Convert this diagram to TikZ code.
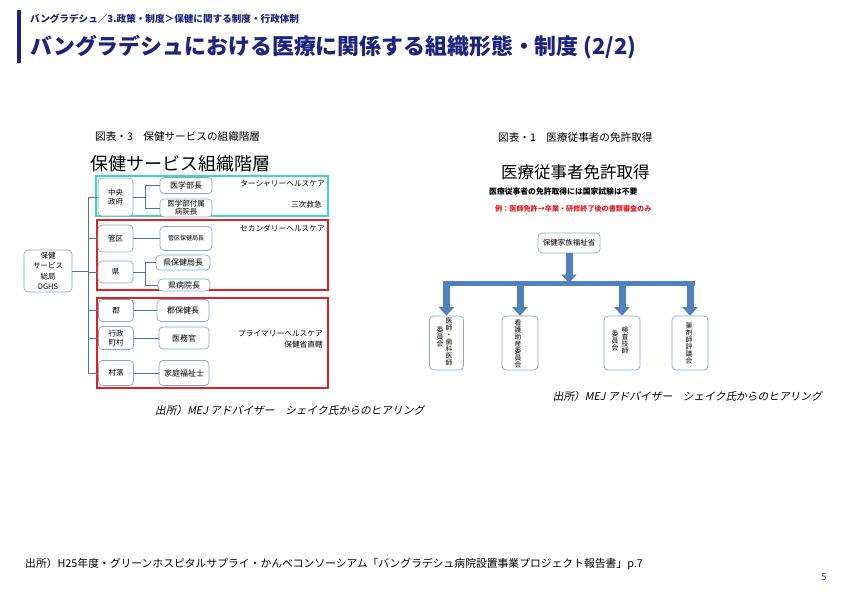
\documentclass[tikz,border=0pt]{standalone}
\usepackage{fontspec}
\setmainfont{Noto Sans CJK JP}
\newfontfamily\jpit[FakeSlant=0.2]{Noto Sans CJK JP}
\usetikzlibrary{arrows.meta}
\definecolor{navy}{RGB}{28,36,128}
\definecolor{boxc}{RGB}{140,165,200}
\definecolor{connc}{RGB}{74,118,176}
\definecolor{arrowc}{RGB}{79,129,189}
\definecolor{cyanf}{RGB}{64,214,190}
\definecolor{redf}{RGB}{226,30,38}
\definecolor{pgblue}{RGB}{30,60,160}
\tikzset{
  jbox/.style={draw=boxc, line width=0.7pt, rounded corners=4pt, fill=white, inner sep=0pt, align=center},
  conn/.style={draw=connc, line width=1pt},
  lbl/.style={font=\fontsize{7.7}{9}\selectfont, inner sep=0pt, anchor=east},
  vtext/.style={inner sep=0pt, align=center, anchor=north, font=\fontsize{6.8}{7}\selectfont},
  blk/.style={draw=arrowc, line width=7pt, -{Triangle[width=15pt,length=8.5pt]}},
  lone/.style={font=\fontsize{7.5}{9}\selectfont},
  ltwo/.style={font=\fontsize{8}{9}\selectfont},
}
\begin{document}
\begin{tikzpicture}[x=1pt,y=-1pt]
\useasboundingbox[fill=white] (0,0) rectangle (842,595);

% header
\fill[navy] (17,10) rectangle (21,63);
\node[anchor=west, inner sep=0pt, text=navy, font=\bfseries\fontsize{9.6}{11}\selectfont] (crumb) at (30,19) {バングラデシュ／3.政策・制度＞保健に関する制度・行政体制};
\node[anchor=west, inner sep=0pt, text=navy, font=\bfseries\fontsize{21.9}{24}\selectfont] (title) at (30,47) {バングラデシュにおける医療に関係する組織形態・制度 (2/2)};

% ---------- left diagram ----------
\node[anchor=west, inner sep=0pt, font=\fontsize{10.6}{12}\selectfont] (capL) at (95,136) {図表・3\quad 保健サービスの組織階層};
\node[anchor=west, inner sep=0pt, font=\fontsize{18}{20}\selectfont] (bigL) at (90,164) {保健サービス組織階層};

\draw[cyanf, line width=1.3pt] (96,176) rectangle (328,216);
\draw[redf, line width=1.2pt] (97,220) rectangle (328,290);
\draw[redf, line width=1.2pt] (97,298) rectangle (328,388);

\node[jbox, minimum width=48pt, minimum height=42pt, font=\fontsize{7.5}{10.5}\selectfont] (dghs) at (48,271) {保健\\サービス\\総局\\DGHS};

\node[jbox, lone, minimum width=35pt, minimum height=38pt] (cgov) at (115.5,197) {中央\\政府};
\node[jbox, lone, minimum width=35pt, minimum height=27pt] (kanku) at (115.5,238.5) {管区};
\node[jbox, lone, minimum width=35pt, minimum height=22pt] (ken) at (115.5,272) {県};
\node[jbox, lone, minimum width=35pt, minimum height=22pt] (gun) at (116,310.5) {郡};
\node[jbox, lone, minimum width=35pt, minimum height=23pt] (gyosei) at (116,338) {行政\\町村};
\node[jbox, lone, minimum width=35pt, minimum height=25pt] (sonraku) at (116,373) {村落};

\node[jbox, ltwo, minimum width=52pt, minimum height=16pt] (igakubu) at (186,185.5) {医学部長};
\node[jbox, font=\fontsize{7.5}{8}\selectfont, minimum width=52pt, minimum height=18pt] (fuzoku) at (186,208) {医学部付属\\病院長};
\node[jbox, font=\fontsize{6}{7}\selectfont, minimum width=52pt, minimum height=24pt] (kankuho) at (186,238.5) {管区保健局長};
\node[jbox, ltwo, minimum width=54pt, minimum height=15pt] (kenho) at (183,262.5) {県保健局長};
\node[jbox, ltwo, minimum width=52pt, minimum height=12pt] (kenbyo) at (184,285) {県病院長};
\node[jbox, ltwo, minimum width=52pt, minimum height=22pt] (gunho) at (183,310.5) {郡保健長};
\node[jbox, ltwo, minimum width=50pt, minimum height=22pt] (imukan) at (184,338) {医務官};
\node[jbox, ltwo, minimum width=50pt, minimum height=25pt] (kazoku) at (184,373) {家庭福祉士};

% bus from DGHS
\coordinate (bx) at (88,0);
\draw[conn] (dghs.east) -- (bx |- dghs.east);
\draw[conn] (bx |- cgov.west) -- (bx |- sonraku.west);
\foreach \n in {cgov,kanku,ken,gun,gyosei,sonraku}
  \draw[conn] (bx |- \n.west) -- (\n.west);

% central gov branch
\coordinate (c1) at (145,0);
\draw[conn] (cgov.east) -- (c1 |- cgov.east);
\draw[conn] (c1 |- igakubu.west) -- (c1 |- fuzoku.west);
\draw[conn] (c1 |- igakubu.west) -- (igakubu.west);
\draw[conn] (c1 |- fuzoku.west) -- (fuzoku.west);
% ken branch
\draw[conn] (ken.east) -- (c1 |- ken.east);
\draw[conn] (c1 |- kenho.west) -- (c1 |- kenbyo.west);
\draw[conn] (c1 |- kenho.west) -- (kenho.west);
\draw[conn] (c1 |- kenbyo.west) -- (kenbyo.west);
% straight ones
\draw[conn] (kanku.east) -- (kankuho.west);
\draw[conn] (gun.east) -- (gunho.west);
\draw[conn] (gyosei.east) -- (imukan.west);
\draw[conn] (sonraku.east) -- (kazoku.west);

\node[lbl] (tert) at (325,184) {ターシャリーヘルスケア};
\node[lbl] (sanji) at (322,205) {三次救急};
\node[lbl] (second) at (325,228) {セカンダリーヘルスケア};
\node[lbl] (prim) at (323,333) {プライマリーヘルスケア};
\node[lbl] (chokkatsu) at (323,345) {保健省直轄};

\node[anchor=west, inner sep=0pt, font=\jpit\fontsize{10.7}{12}\selectfont] (srcL) at (155,410) {出所）MEJ アドバイザー　シェイク氏からのヒアリング};

% ---------- right diagram ----------
\node[anchor=west, inner sep=0pt, font=\fontsize{10.6}{12}\selectfont] (capR) at (498,137) {図表・1\quad 医療従事者の免許取得};
\node[anchor=west, inner sep=0pt, font=\fontsize{16.5}{18}\selectfont] (bigR) at (501,172) {医療従事者免許取得};
\node[anchor=west, inner sep=0pt, font=\bfseries\fontsize{7.8}{9}\selectfont] (note1) at (489,192) {医療従事者の免許取得には国家試験は不要};
\node[anchor=west, inner sep=0pt, text=redf, font=\bfseries\fontsize{7.1}{9}\selectfont] (note2) at (495,209) {例：医師免許→卒業・研修終了後の書類審査のみ};

\node[jbox, font=\fontsize{7.5}{9}\selectfont, minimum width=62pt, minimum height=20pt] (moh) at (569,243) {保健家族福祉省};

\node[jbox, minimum width=34pt, minimum height=54pt] (c1b) at (446.5,343) {};
\node[jbox, minimum width=36pt, minimum height=54pt] (c2b) at (520,343) {};
\node[jbox, minimum width=36pt, minimum height=54pt] (c3b) at (622,343) {};
\node[jbox, minimum width=36pt, minimum height=54pt] (c4b) at (690,343) {};

\node[vtext] (t1a) at (449,318) {医\\師\\・\\歯\\科\\医\\師};
\node[vtext] (t1b) at (440,327) {委\\員\\会};
\node[vtext] (t2) at (518,320) {看\\護\\助\\産\\委\\員\\会};
\node[vtext] (t3a) at (625,327) {検\\査\\技\\師};
\node[vtext] (t3b) at (615,331) {委\\員\\会};
\node[vtext] (t4) at (689,323) {薬\\剤\\師\\評\\議\\会};

\coordinate (barL) at (443,283);
\coordinate (barR) at (695,283);
\draw[arrowc, line width=5pt] (barL) -- (barR);
\draw[blk] (moh.south) -- (moh.south |- barL);
\foreach \b in {c1b,c2b,c3b,c4b}
  \draw[blk] (\b.north |- barL) -- (\b.north);

\node[anchor=east, inner sep=0pt, font=\jpit\fontsize{10.7}{12}\selectfont] (srcR) at (822,396) {出所）MEJ アドバイザー　シェイク氏からのヒアリング};

% footer
\node[anchor=west, inner sep=0pt, font=\fontsize{10.8}{12}\selectfont] (foot) at (25,564) {出所）H25年度・グリーンホスピタルサプライ・かんべコンソーシアム「バングラデシュ病院設置事業プロジェクト報告書」p.7};
\node[anchor=center, inner sep=0pt, text=pgblue, font=\fontsize{10}{12}\selectfont] (pg) at (824,577) {5};
\end{tikzpicture}
\end{document}
